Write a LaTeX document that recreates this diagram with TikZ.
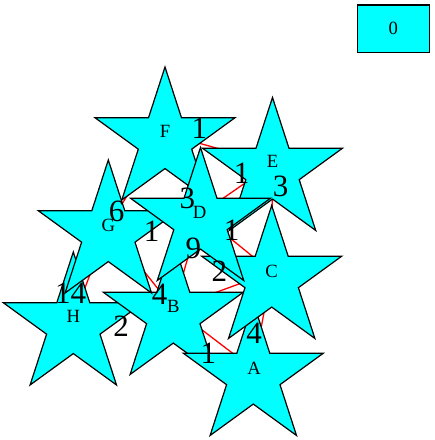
\documentclass[tikz,border=0pt]{standalone}
\usepackage{fontspec}
\setmainfont{Liberation Serif}
\usetikzlibrary{shapes.geometric}
\definecolor{gcyan}{RGB}{0,255,255}
\definecolor{gred}{RGB}{255,0,0}
\begin{document}
\begin{tikzpicture}[x=1pt,y=-1pt,
  gstar/.style={star, star points=5, star point ratio=2.618, minimum size=147pt,
    inner sep=0pt, outer sep=0pt, draw=black, fill=gcyan, line width=1.2pt},
  gbox/.style={rectangle, draw=black, fill=gcyan, line width=1.2pt,
    minimum width=72pt, minimum height=47.7pt, inner sep=0pt,
    font=\fontsize{18.67pt}{20pt}\selectfont},
  nlab/.style={inner sep=0pt, font=\fontsize{18.67pt}{20pt}\selectfont},
  elab/.style={inner sep=0pt, font=\fontsize{31pt}{33pt}\selectfont},
  gedge/.style={draw=gred, line width=1.3pt}]
\fill[white] (0,0) rectangle (435,440);
\useasboundingbox (0,0) rectangle (435,440);
% node centres (bounding-box centres)
\coordinate (A) at (253.3,369);
\coordinate (B) at (173.3,308);
\coordinate (C) at (271.7,272);
\coordinate (D) at (200.5,214);
\coordinate (E) at (272.5,164);
\coordinate (F) at (165,133.5);
\coordinate (G) at (108.3,226.5);
\coordinate (H) at (73.3,318.5);
% edges
\draw[gedge] (F) -- (E);
\draw[gedge] (D) -- (E);
\draw[gedge] (E) -- (C);
\draw[gedge] (F) -- (G);
\draw[gedge] (F) -- (D);
\draw[gedge] (G) -- (D);
\draw[gedge] (D) -- (B);
\draw[gedge] (D) -- (C);
\draw[gedge] (B) -- (C);
\draw[gedge] (G) -- (H);
\draw[gedge] (G) -- (B);
\draw[gedge] (H) -- (B);
\draw[gedge] (C) -- (A);
\draw[gedge] (B) -- (A);
% stars
\node[gstar] (sH) at (73.3,325.5) {};
\node[gstar] (sB) at (173.3,315) {};
\node[gstar] (sA) at (253.3,376) {};
\node[gstar] (sC) at (271.7,279) {};
\node[gstar] (sE) at (272.5,171) {};
\node[gstar] (sF) at (165,140.5) {};
\node[gstar] (sG) at (108.3,233.5) {};
\node[gstar] (sD) at (200.5,221) {};
% node labels
\node[nlab] (tA) at (254,368.5) {A};
\node[nlab] (tB) at (173.3,306.7) {B};
\node[nlab] (tC) at (271.7,271) {C};
\node[nlab] (tD) at (199.5,212) {D};
\node[nlab] (tE) at (272.7,161.7) {E};
\node[nlab] (tF) at (165,131.7) {F};
\node[nlab] (tG) at (108.3,225) {G};
\node[nlab] (tH) at (73.3,316.7) {H};
% box 0
\node[gbox] (n0) at (393.3,28.85) {0};
% edge labels
\node[elab] (wFE) at (199.3,128.3) {1};
\node[elab] (wDE) at (241.7,173.3) {1};
\node[elab] (wEC) at (280.7,186.7) {3};
\node[elab] (wFG) at (116.7,211.7) {6};
\node[elab] (wFD) at (187.3,198) {3};
\node[elab] (wGD) at (151.7,231.7) {1};
\node[elab] (wDB) at (193.3,248.3) {9};
\node[elab] (wDC) at (231.7,230) {1};
\node[elab] (wBC) at (219.3,271.7) {2};
\node[elab] (wGH) at (70.7,293.3) {14};
\node[elab] (wGB) at (159.5,294.5) {4};
\node[elab] (wHB) at (121.2,326.5) {2};
\node[elab] (wCA) at (254,333.3) {4};
\node[elab] (wBA) at (208.3,353.3) {1};
\end{tikzpicture}
\end{document}
